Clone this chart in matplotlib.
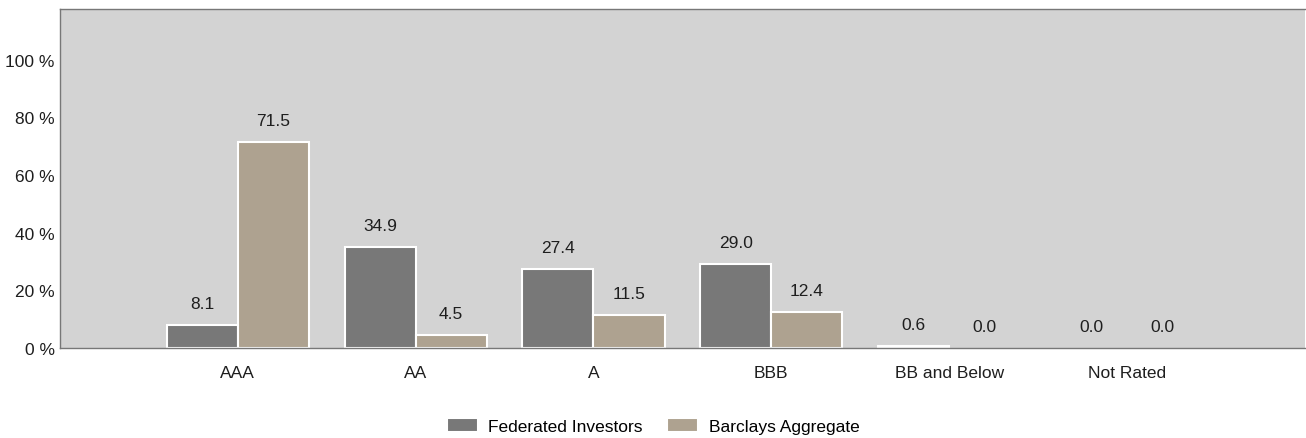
import numpy as np
import matplotlib

matplotlib.use("Agg")
import matplotlib.pyplot as plt

plt.rcParams["font.family"] = ["Liberation Sans", "DejaVu Sans"]

categories = ["AAA", "AA", "A", "BBB", "BB and Below", "Not Rated"]
federated = [8.1, 34.9, 27.4, 29.0, 0.6, 0.0]
barclays = [71.5, 4.5, 11.5, 12.4, 0.0, 0.0]
yticks = [0, 20, 40, 60, 80, 100]

C_FED = "#787878"
C_BAR = "#aea290"
TXT = "#1e1e1e"
FS = 12.5

fig = plt.figure(figsize=(13.06, 4.39), dpi=100)
ax = fig.add_axes([0.046, 0.205, 0.953, 0.772])
ax.set_facecolor("#d3d3d3")

x = np.arange(len(categories))
w = 0.4
b1 = ax.bar(x - w / 2, federated, w, color=C_FED, edgecolor="white", lw=1.5,
            label="Federated Investors")
b2 = ax.bar(x + w / 2, barclays, w, color=C_BAR, edgecolor="white", lw=1.5,
            label="Barclays Aggregate")

for bars, vals in ((b1, federated), (b2, barclays)):
    for r, v in zip(bars, vals):
        if v == 0:
            r.set_linewidth(0)
        ax.annotate(f"{v:.1f}", (r.get_x() + r.get_width() / 2, v),
                    xytext=(0, 10), textcoords="offset points",
                    ha="center", va="bottom", fontsize=FS, color=TXT)

ax.set_xlim(-1, 6)
ax.set_ylim(0, 117.5)
ax.set_xticks(x)
ax.set_xticklabels(categories, fontsize=FS, color=TXT)
ax.set_yticks(yticks)
ax.set_yticklabels([f"{t} %" for t in yticks], fontsize=FS, color=TXT)
ax.tick_params(length=0)
ax.tick_params(axis="y", pad=4)
ax.tick_params(axis="x", pad=12)

for s in ("left", "bottom", "top"):
    ax.spines[s].set_color("#777777")
    ax.spines[s].set_linewidth(1)
ax.spines["right"].set_visible(False)

fig.legend(handles=[b1, b2], loc="lower center", bbox_to_anchor=(0.5, -0.027),
           ncol=2, frameon=False, fontsize=FS, handlelength=1.8,
           handleheight=0.9, columnspacing=1.4, handletextpad=0.6)

fig.savefig("out.png", dpi=100)
